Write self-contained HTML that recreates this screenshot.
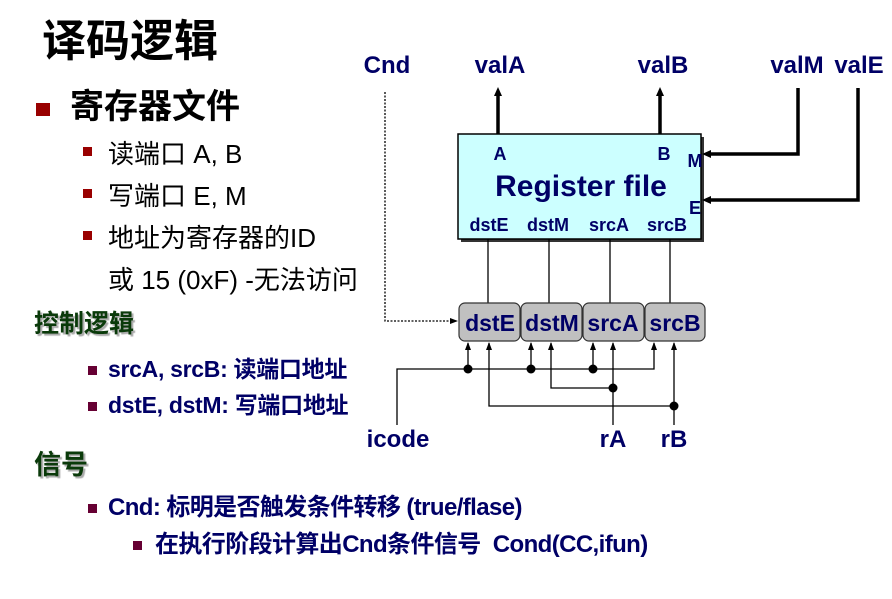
<!DOCTYPE html>
<html><head><meta charset="utf-8"><style>
body{margin:0;width:892px;height:599px;background:#fff;position:relative;overflow:hidden;font-family:"Liberation Sans","Noto Sans CJK SC",sans-serif}
.t{position:absolute;white-space:nowrap;line-height:1}
.nv{color:#000066;font-weight:bold}
.sq{position:absolute;background:#990000}
.sq2{position:absolute;background:#660033}
.gr{color:#0a3a0a;font-weight:bold;text-shadow:2px 2px 1px #aaa}
</style></head><body>
<div class="t" style="left:42px;top:20px;font-size:44px;font-weight:bold;color:#000">译码逻辑</div>
<div class="sq" style="left:36px;top:103px;width:14px;height:13px"></div>
<div class="t" style="left:70px;top:90px;font-size:34px;font-weight:bold;color:#000">寄存器文件</div>
<div class="sq" style="left:83px;top:147px;width:9px;height:9px"></div>
<div class="t" style="left:108px;top:141px;font-size:26px;color:#000">读端口 A, B</div>
<div class="sq" style="left:83px;top:189px;width:9px;height:9px"></div>
<div class="t" style="left:108px;top:183px;font-size:26px;color:#000">写端口 E, M</div>
<div class="sq" style="left:83px;top:231px;width:9px;height:9px"></div>
<div class="t" style="left:108px;top:225px;font-size:26px;color:#000">地址为寄存器的ID</div>
<div class="t" style="left:108px;top:267px;font-size:26px;color:#000">或 15 (0xF) -无法访问</div>
<div class="t gr" style="left:34px;top:312px;font-size:25px">控制逻辑</div>
<div class="sq2" style="left:88px;top:366px;width:9px;height:9px"></div>
<div class="t nv" style="left:108px;top:358px;font-size:23px;letter-spacing:-0.3px">srcA, srcB: 读端口地址</div>
<div class="sq2" style="left:88px;top:402px;width:9px;height:9px"></div>
<div class="t nv" style="left:108px;top:394px;font-size:23px;letter-spacing:-0.3px">dstE, dstM: 写端口地址</div>
<div class="t gr" style="left:34px;top:452px;font-size:27px">信号</div>
<div class="sq2" style="left:88px;top:504px;width:9px;height:9px"></div>
<div class="t nv" style="left:108px;top:496px;font-size:24px;letter-spacing:-0.6px">Cnd: 标明是否触发条件转移 (true/flase)</div>
<div class="sq2" style="left:133px;top:541px;width:9px;height:9px"></div>
<div class="t nv" style="left:155px;top:533px;font-size:24px;letter-spacing:-0.6px">在执行阶段计算出Cnd条件信号&nbsp; Cond(CC,ifun)</div>

<svg width="892" height="599" style="position:absolute;left:0;top:0" font-family="Liberation Sans, sans-serif" font-weight="bold" fill="#000066">
<defs><marker id="a" markerWidth="8" markerHeight="8" refX="7" refY="4" orient="auto" markerUnits="userSpaceOnUse"><path d="M0,1 L8,4 L0,7z" fill="#000"/></marker></defs>
<g font-size="24" text-anchor="middle">
<text x="387" y="73">Cnd</text><text x="500" y="73">valA</text><text x="663" y="73">valB</text>
<text x="797" y="73">valM</text><text x="859" y="73">valE</text>
<text x="398" y="447">icode</text><text x="613" y="447">rA</text><text x="674" y="447">rB</text>
</g>
<rect x="461" y="137" width="243" height="105" fill="#333"/>
<rect x="458" y="134" width="243" height="105" fill="#ccffff" stroke="#000" stroke-width="1.5"/>
<g font-size="18" text-anchor="middle">
<text x="500" y="160">A</text><text x="664" y="160">B</text>
<text x="695" y="167">M</text><text x="695" y="214">E</text>
<text x="489" y="231">dstE</text><text x="548" y="231">dstM</text><text x="609" y="231">srcA</text><text x="667" y="231">srcB</text>
</g>
<text x="581" y="196" font-size="30" text-anchor="middle">Register file</text>
<g stroke="#000" stroke-width="3.5" fill="none">
<line x1="498" y1="134" x2="498" y2="92"/>
<line x1="660" y1="134" x2="660" y2="92"/>
<polyline points="798,88 798,154 710,154"/>
<polyline points="858,88 858,200 710,200"/>
</g>
<g fill="#000"><path d="M494,96 L498,87 L502,96z"/><path d="M656,96 L660,87 L664,96z"/><path d="M711,150 L702,154 L711,158z"/><path d="M711,196 L702,200 L711,204z"/></g>
<g stroke="#000" stroke-width="1.3" fill="none">
<line x1="488" y1="239" x2="488" y2="303"/><line x1="549" y1="239" x2="549" y2="303"/>
<line x1="610" y1="239" x2="610" y2="303"/><line x1="670" y1="239" x2="670" y2="303"/>
<polyline points="385,92 385,321 457,321" stroke-dasharray="2,1.5" marker-end="url(#a)"/>
<polyline points="397,425 397,369 654,369 654,343" marker-end="url(#a)"/>
<line x1="468" y1="369" x2="468" y2="343" marker-end="url(#a)"/>
<line x1="531" y1="369" x2="531" y2="343" marker-end="url(#a)"/>
<line x1="593" y1="369" x2="593" y2="343" marker-end="url(#a)"/>
<line x1="613" y1="425" x2="613" y2="343" marker-end="url(#a)"/>
<polyline points="613,388 551,388 551,343" marker-end="url(#a)"/>
<line x1="674" y1="425" x2="674" y2="343" marker-end="url(#a)"/>
<polyline points="674,406 489,406 489,343" marker-end="url(#a)"/>
</g>
<g fill="#000"><circle cx="468" cy="369" r="4.5"/><circle cx="531" cy="369" r="4.5"/><circle cx="593" cy="369" r="4.5"/><circle cx="613" cy="388" r="4.5"/><circle cx="674" cy="406" r="4.5"/></g>
<g fill="#c0c0c0" stroke="#333" stroke-width="1.2">
<rect x="459" y="303" width="61" height="38" rx="6"/><rect x="521" y="303" width="61" height="38" rx="6"/>
<rect x="583" y="303" width="61" height="38" rx="6"/><rect x="645" y="303" width="60" height="38" rx="6"/>
</g>
<g font-size="23" text-anchor="middle">
<text x="490" y="331">dstE</text><text x="552" y="331">dstM</text><text x="613" y="331">srcA</text><text x="675" y="331">srcB</text>
</g>
</svg>
</body></html>
